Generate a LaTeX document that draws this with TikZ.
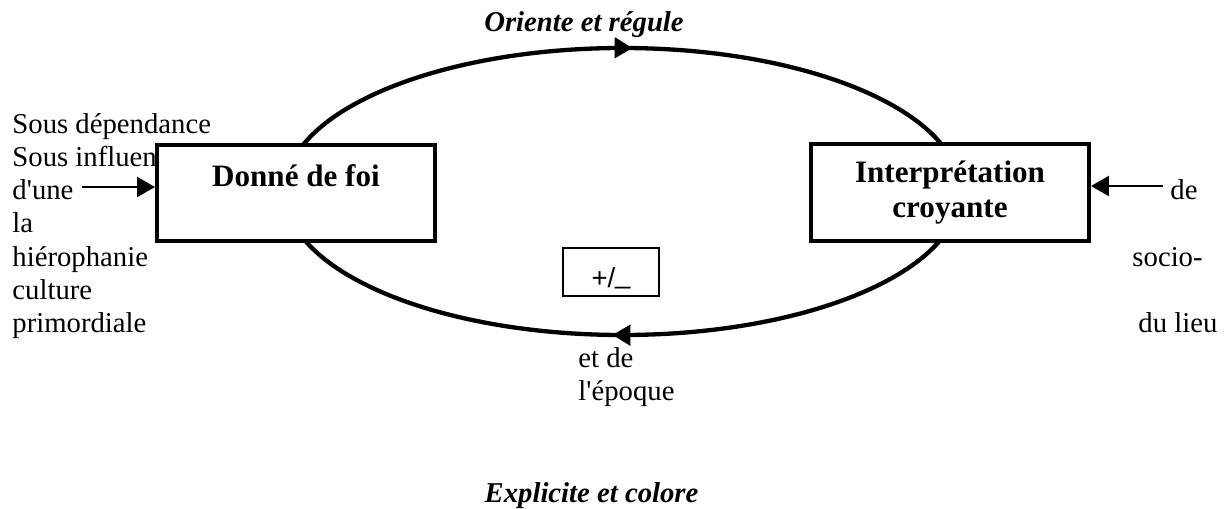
\documentclass[tikz,border=0pt]{standalone}
\usepackage{fontspec}
\setmainfont{Liberation Serif}
\newfontfamily\pmfont{Liberation Sans}
\usepackage{tikz}
\usetikzlibrary{arrows.meta, decorations.markings}

\begin{document}
\begin{tikzpicture}[x=0.418pt, y=-0.418pt, line join=miter,
    txt/.style={font=\fontsize{12}{13.9}\selectfont, inner sep=0pt, anchor=base west},
    ttl/.style={font=\fontsize{12}{13.9}\selectfont\bfseries\itshape, inner sep=0pt, anchor=base},
    blk/.style={draw, fill=white, line width=1.7pt, minimum width=116.2pt, minimum height=40.3pt,
                inner sep=0pt, align=center, font=\fontsize{13}{14.6}\selectfont\bfseries},
    ar/.style={-{Triangle[length=7.5pt, width=8.4pt]}, line width=0.8pt},
    cyc/.style={line width=1.8pt, postaction={decorate}, decoration={markings,
        mark=at position 0.2564 with {\arrow{Triangle[length=7.5pt, width=8.4pt]}},
        mark=at position 0.7564 with {\arrow{Triangle[length=7.5pt, width=8.4pt]}}}}]
  \useasboundingbox (0,0) rectangle (1229,508);
  \draw[cyc] (622.5,191.5) ellipse [x radius=337.7, y radius=143.5];
  \node[blk] (dfoi)   at (296,193)   {Donné de foi\\\mbox{}};
  \node[blk] (interp) at (950,192.5) {Interprétation\\croyante};
  \node[draw, line width=0.8pt, font=\pmfont\fontsize{11.5}{13}\selectfont, minimum width=40.1pt,
        text height=16.3pt, text depth=3.8pt, inner sep=0pt, anchor=base] (pm) at (611,287)
        {+/\raisebox{1.3pt}{\_}};
  \node[ttl] (oriente)  at (584,31)    {Oriente et régule};
  \node[ttl] (explicit) at (591.5,502) {Explicite et colore};
  % left column, one line each
  \foreach \w [count=\i] in {Sous dépendance, Sous influen, d\textquotesingle une, la,
                             hiérophanie, culture, primordiale}
    \node[txt] (lt\i) at (12,99.7+33.3*\i) {\w};
  \node[txt] (rt1) at (1170,199.6) {de};
  \node[txt] (rt2) at (1132,266.2) {socio-};
  \node[txt] (rt3) at (1138,332.8) {du lieu};
  \node[txt] (bt1) at (578,367) {et de};
  \node[txt] (bt2) at (578,400) {l\textquotesingle époque};
  \coordinate (src1) at (82,187);
  \coordinate (src2) at (1163,186);
  \draw[ar] (src1) -- (src1 -| dfoi.west);
  \draw[ar] (src2) -- (src2 -| interp.east);
\end{tikzpicture}
\end{document}
